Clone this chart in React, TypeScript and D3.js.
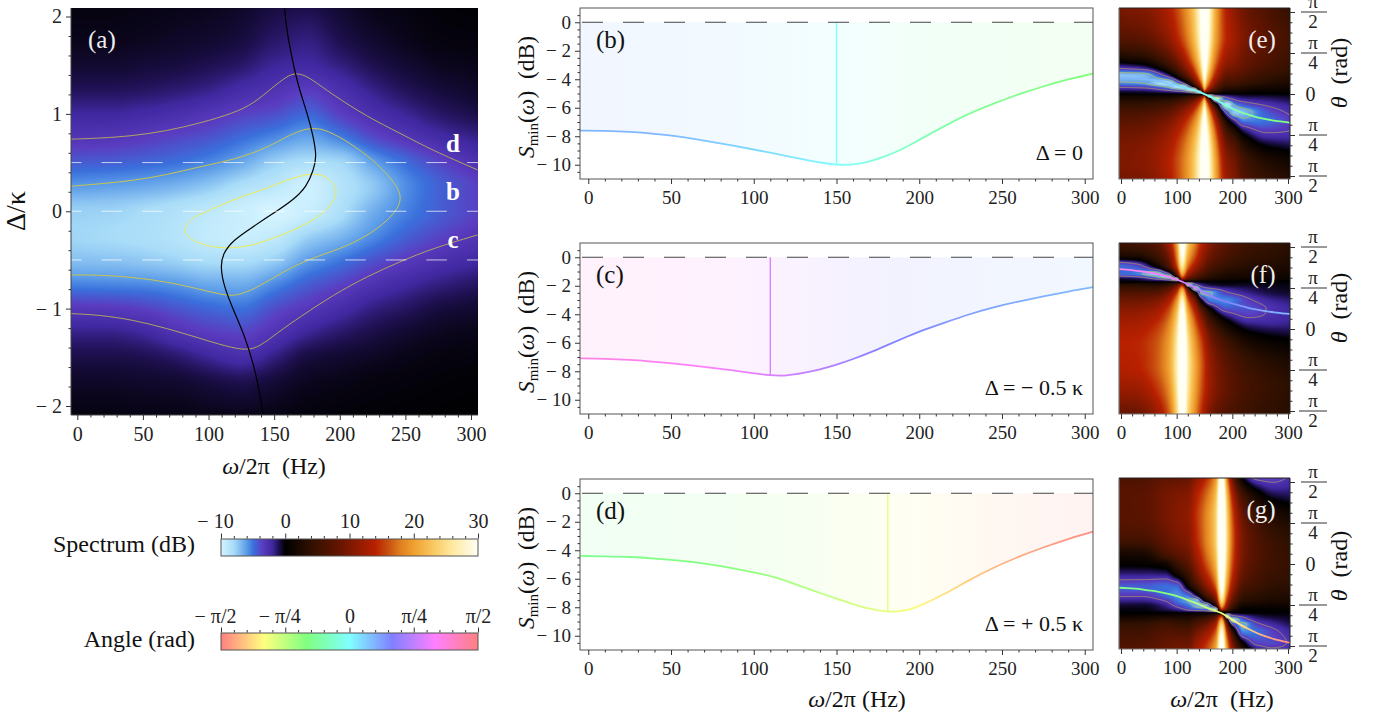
import React, { useEffect, useMemo, useRef } from 'react';
import * as d3 from 'd3';

const FONT = "'Liberation Serif', 'Times New Roman', serif";
const PI = Math.PI;

// colour scale stops, dB
const spectrumStops = [-10, -8, -6, -5, -3.5, -2, -1, 0, 4, 8, 12, 14, 16, 18, 20, 23, 26, 30];
const spectrumColors = ['#d4f4ff', '#a8dcf8', '#5c9ce8', '#3a70dc', '#5a3cc0', '#4028a0', '#1e1050', '#000000', '#301000', '#601400', '#9a1c00', '#b82000', '#c85010', '#e08020', '#f0a030', '#f8c860', '#ffe9a0', '#fffff4'];
const contourLevels = [-3, -6, -9];
const contourColors = ['#b0a460', '#c8c450', '#ecec50'];

// panel (a): spectrum in dB, one list per frequency column
const omegaA = [-5, 25, 50, 75, 100, 125, 150, 175, 200, 225, 250, 275, 305];
const deltaA = [2.09, 1.75, 1.5, 1.25, 1, 0.75, 0.5, 0.25, 0, -0.25, -0.5, -0.75, -1, -1.25, -1.5, -1.75, -2.09];
const spectrumA = [
  [-0.2, -0.35, -0.6, -1.1, -2.0, -3.0, -4.4, -6.0, -7.6, -7.8, -7.1, -5.4, -3.2, -1.7, -0.9, -0.5, -0.2],
  [-0.2, -0.35, -0.6, -1.1, -2.0, -3.1, -4.5, -6.2, -7.7, -8.0, -7.2, -5.5, -3.3, -1.7, -0.9, -0.5, -0.2],
  [-0.25, -0.4, -0.7, -1.2, -2.2, -3.4, -4.7, -6.4, -8.0, -8.2, -7.4, -5.6, -3.6, -2.0, -1.0, -0.55, -0.25],
  [-0.3, -0.5, -0.8, -1.4, -2.5, -3.8, -5.0, -6.8, -8.4, -8.6, -7.75, -5.9, -4.2, -2.8, -1.3, -0.6, -0.25],
  [-0.35, -0.6, -1.0, -1.7, -3.0, -4.2, -5.55, -7.4, -8.95, -9.2, -8.15, -6.4, -4.7, -3.4, -1.9, -0.8, -0.3],
  [-0.5, -0.8, -1.3, -2.3, -3.6, -4.9, -6.4, -8.3, -9.5, -9.5, -8.2, -6.5, -5.0, -3.7, -2.4, -1.0, -0.3],
  [-0.8, -1.3, -1.9, -2.8, -4.0, -5.6, -7.6, -8.9, -10, -9.2, -7.6, -5.6, -4.0, -2.9, -1.6, -0.7, -0.25],
  [-0.9, -1.6, -2.1, -3.4, -4.7, -6.3, -8.2, -9.7, -9.5, -7.8, -6.1, -4.5, -3.2, -1.9, -0.8, -0.4, -0.15],
  [-0.6, -1.0, -1.6, -2.6, -3.6, -5.4, -7.9, -8.6, -8.3, -6.9, -5.2, -3.7, -2.4, -1.3, -0.6, -0.3, -0.1],
  [-0.3, -0.6, -1.0, -1.7, -2.6, -4.0, -6.2, -7.4, -6.6, -5.7, -4.2, -2.8, -1.6, -0.9, -0.45, -0.2, -0.08],
  [-0.2, -0.35, -0.65, -1.1, -1.9, -3.1, -4.9, -5.7, -5.4, -4.6, -3.4, -2.1, -1.2, -0.6, -0.3, -0.15, -0.05],
  [-0.1, -0.2, -0.4, -0.75, -1.3, -2.3, -3.8, -4.6, -4.5, -3.8, -2.7, -1.6, -0.8, -0.4, -0.2, -0.1, -0.03],
  [-0.06, -0.15, -0.3, -0.5, -0.9, -1.7, -2.7, -3.6, -3.6, -3.0, -2.1, -1.2, -0.6, -0.3, -0.15, -0.06, -0.02],
];

// contour lines of panel (a), [omega, delta]
const outerTop = [[-5, 0.74], [17, 0.75], [42.7, 0.774], [68, 0.825], [93.5, 0.904], [119, 1.007], [134, 1.103], [149, 1.274], [159.5, 1.384], [166, 1.42], [173.5, 1.397], [182, 1.322], [195, 1.195], [220.5, 0.973], [246, 0.801], [271, 0.623], [305, 0.425]];
const outerBottom = [[-5, -1.051], [17, -1.065], [42.7, -1.116], [68, -1.202], [93.5, -1.305], [114, -1.39], [129, -1.43], [139, -1.39], [152, -1.253], [170, -1.082], [195, -0.86], [220.5, -0.671], [246, -0.517], [271, -0.38], [305, -0.243]];
const middleLine = [[-5, 0.257], [17, 0.281], [42.7, 0.315], [68, 0.373], [93.5, 0.459], [119, 0.527], [144, 0.647], [159.5, 0.767], [170, 0.829], [180, 0.86], [191, 0.829], [208, 0.699], [225.5, 0.527], [238, 0.356], [248, 0.168], [244, 0.014], [233, -0.14], [215, -0.3], [195, -0.41], [175, -0.5], [157, -0.62], [139, -0.77], [124, -0.86], [114, -0.87], [93.5, -0.801], [68, -0.723], [42.7, -0.678], [17, -0.654], [-5, -0.654]];
const innerLine = [[82, -0.192], [87, -0.085], [98.5, -0.003], [119, 0.116], [144, 0.236], [164.6, 0.34], [180, 0.38], [190, 0.345], [197, 0.219], [194.5, 0.099], [185, -0.038], [170, -0.158], [149, -0.277], [131.6, -0.35], [113.8, -0.375], [98.5, -0.35], [86, -0.275]];
const ridgeLine = [[157.7, 2.12], [159.5, 1.863], [163.3, 1.589], [168.4, 1.281], [176, 0.973], [179.8, 0.767], [182.5, 0.562], [180, 0.425], [174.8, 0.253], [164.6, 0.116], [149.4, -0.021], [134, -0.158], [118.9, -0.295], [111, -0.432], [109, -0.568], [111.8, -0.774], [118.9, -1.014], [127.8, -1.288], [134.1, -1.562], [138.7, -1.836], [142, -2.12]];
const sliceLevels = [0.5, 0, -0.5];

// minimum noise curves and their angle
const omegaCurve = [-5, 10, 25, 40, 55, 70, 85, 100, 110, 120, 130, 140, 150, 160, 170, 180, 190, 200, 215, 230, 245, 260, 275, 290, 305];
const sminB = [-7.6, -7.62, -7.68, -7.82, -8.02, -8.3, -8.6, -8.93, -9.15, -9.4, -9.63, -9.85, -10.02, -10.02, -9.78, -9.4, -8.9, -8.25, -7.3, -6.4, -5.7, -5.05, -4.5, -4.0, -3.6];
const sminC = [-7.1, -7.12, -7.2, -7.33, -7.5, -7.7, -7.9, -8.15, -8.3, -8.32, -8.12, -7.88, -7.55, -7.15, -6.7, -6.2, -5.7, -5.2, -4.6, -4.0, -3.5, -3.1, -2.75, -2.4, -2.1];
const sminD = [-4.4, -4.42, -4.46, -4.58, -4.72, -4.92, -5.2, -5.55, -5.8, -6.15, -6.6, -7.0, -7.4, -7.78, -8.12, -8.32, -8.3, -7.95, -7.1, -6.1, -5.2, -4.45, -3.8, -3.2, -2.7];
const angleB = [0.31, 0.31, 0.30, 0.29, 0.27, 0.24, 0.2, 0.16, 0.14, 0.11, 0.08, 0.04, 0, -0.05, -0.1, -0.17, -0.23, -0.28, -0.35, -0.4, -0.45, -0.48, -0.51, -0.53, -0.55];
const angleC = [1.15, 1.14, 1.12, 1.1, 1.08, 1.04, 1.0, 0.95, 0.906, 0.86, 0.81, 0.76, 0.7, 0.64, 0.59, 0.55, 0.52, 0.49, 0.44, 0.4, 0.37, 0.34, 0.32, 0.3, 0.287];
const angleD = [-0.454, -0.46, -0.47, -0.49, -0.51, -0.54, -0.57, -0.61, -0.65, -0.69, -0.73, -0.77, -0.82, -0.86, -0.9, -0.933, -1.0, -1.07, -1.17, -1.25, -1.33, -1.39, -1.44, -1.48, -1.51];

// panel (e)
const omegaE = [-5, 40, 80, 110, 130, 142, 146, 150, 154, 158, 170, 190, 205, 220, 260, 305];
const thetaE = [1.65, 1.1, 0.7, 0.5, 0.35, 0.2, 0.14, 0.08, 0.04, 0, -0.04, -0.08, -0.14, -0.2, -0.35, -0.5, -0.7, -1, -1.3, -1.65];
const spectrumE = [
  [9.8, 7.1, 2, -2.8, -7.3, -5.4, -3.4, -1.6, -0.5, 0, 1.3, 2, 3.2, 4, 5.9, 7.3, 8.6, 9.7, 10, 9.3],
  [10.5, 7.9, 3, -1.8, -7, -5.9, -3.8, -1.8, -0.7, 0, 1.3, 2.2, 3.3, 4.3, 6.2, 7.7, 9, 10.3, 10.6, 10],
  [12.9, 10.8, 6.5, 2.4, -2.8, -8.5, -6.2, -3.3, -1.4, 0, 1.3, 2.4, 4, 5.2, 7.6, 9.3, 10.9, 12.4, 13, 12.6],
  [17.5, 15.8, 12, 8.7, 4.5, -4, -9, -5.9, -2.4, 0, 2.3, 4, 6, 7.8, 10.8, 12.9, 14.8, 16.6, 17.4, 17.3],
  [23, 21.6, 18.5, 15.3, 11.8, 5.4, 0.4, -9.5, -5.4, 0, 4, 6.5, 9.4, 11.5, 15.2, 17.6, 19.8, 21.9, 22.8, 22.9],
  [29.5, 28.4, 25.4, 22.6, 19.5, 14, 10, 3, -9, 0, 6.8, 10.6, 14.3, 16.8, 21, 23.7, 26, 28.2, 29.3, 29.5],
  [34, 33, 29.9, 27.2, 24.2, 19, 15.6, 9.5, 0, 0, 9.3, 13.8, 18, 20.7, 25, 28, 30.3, 33, 33.8, 34],
  [40, 39, 36, 33.6, 30.7, 26, 23, 18, 12, 0, 12, 18, 23, 26, 30.7, 33.6, 36, 38.5, 39.7, 40],
  [34, 33.4, 30.3, 28, 25, 20.7, 18, 13.8, 9.3, 0, 0, 9.5, 15.6, 19, 24.2, 27.2, 29.9, 32.6, 33.7, 34],
  [29.5, 28.7, 26, 23.7, 21, 16.8, 14.3, 10.6, 6.8, 0, -9, 3, 10, 14, 19.5, 22.6, 25.4, 28, 29.2, 29.5],
  [20.9, 20.3, 18, 15.9, 13.6, 10, 8.2, 5.7, 3.4, 0, -3.8, -9.5, -3.8, 2, 9.2, 13, 16.1, 18.9, 20.4, 21],
  [13.5, 14, 12, 10, 8, 5.5, 4, 2.3, 1, 0, -1.9, -3.5, -6.4, -8.7, -4, 1.1, 5.3, 9, 11, 12],
  [11, 12, 10.7, 9.2, 7.5, 5.2, 3.7, 2, 1, 0, -1.2, -2.2, -3.7, -5.6, -7.5, -3, 2, 6.5, 9, 10],
  [9, 10, 9, 8, 6.5, 4.5, 3, 1.8, 0.8, 0, -0.8, -1.5, -2.8, -4.2, -7, -5.5, -1.1, 3.2, 5.8, 7.2],
  [6.5, 7.5, 6.8, 5.8, 4.5, 3, 1.9, 1, 0.4, 0, -0.6, -1.2, -1.9, -2.7, -4.4, -5, -3.4, 0, 2.8, 4.6],
  [4, 5.5, 5, 4.4, 3.4, 2.2, 1.5, 0.9, 0.4, 0, -0.35, -0.7, -1.2, -1.7, -2.6, -3.4, -3, -0.8, 1.5, 3.2],
];

// panel (f)
const omegaF = [-5, 30, 60, 85, 100, 110, 120, 135, 145, 160, 190, 230, 270, 305];
const thetaF = [1.65, 1.4, 1.2, 1.05, 1.0, 0.96, 0.906, 0.85, 0.78, 0.7, 0.55, 0.4, 0.3, 0.2, 0.1, 0, -0.3, -0.7, -1.1, -1.65];
const spectrumF = [
  [5.5, 2, -5, -4.6, -2.2, -0.5, 0, 3.2, 5, 6.5, 8.8, 10.4, 11.3, 12, 12.6, 13.1, 13.9, 13.6, 12, 8],
  [6, 2.5, -4, -5.4, -3, -1, 0, 3, 4.8, 6.5, 8.9, 10.6, 11.6, 12.3, 12.9, 13.3, 14.2, 14, 12.3, 8.5],
  [7, 4.5, 0, -7.4, -5.5, -3, 0, 2.6, 4.8, 6.8, 9.7, 11.6, 12.7, 13.4, 14.2, 14.8, 15.8, 15.9, 14.5, 11],
  [12, 9, 6, -4, -8, -5, 0, 3.8, 7, 9.4, 12.8, 15, 16.1, 17, 17.9, 18.5, 19.7, 20, 18.7, 16],
  [20, 18, 14.8, 7, 1.5, -8, 0, 7, 11.6, 14.8, 18.8, 21.3, 22.6, 23.6, 24.5, 25.2, 26.5, 27, 26, 24],
  [33.6, 30, 26, 20, 16.5, 11.7, 0, 11.7, 19, 23, 27.8, 30.6, 32, 33, 34, 35, 37, 37, 36, 34],
  [24, 21, 17.4, 12.6, 10, 7, 0, -8.3, 5, 11, 16.7, 20, 21.5, 22.8, 23.7, 24.5, 26.2, 27, 26.3, 24.5],
  [17.6, 15.2, 12, 8.3, 6.4, 4.8, 0, -3, -8, -0.2, 7.6, 11.6, 13.4, 14.9, 16, 17, 18.9, 20, 19.5, 18],
  [14, 12, 9.5, 6.4, 5, 3.6, 0, -1.6, -4, -6.5, -0.5, 6, 8.6, 10.5, 12, 13.2, 15.5, 16.5, 16, 14],
  [10.6, 8.8, 6.6, 4.3, 3.4, 2.5, 0, -0.7, -3, -6.2, -5.2, 0.3, 2.8, 4.8, 6.3, 7.7, 10.2, 11.8, 11.9, 9.5],
  [7.3, 6, 4.3, 2.5, 2, 1.5, 0, -0.3, -1.7, -3.2, -5.5, -4.3, -2.4, -0.5, 1.1, 2.5, 5.6, 7.6, 8.1, 6.5],
  [5.3, 4.3, 3.2, 2, 1.6, 1.1, 0, -0.4, -1, -1.6, -3.3, -4, -3.7, -2.8, -1.6, -0.5, 2.4, 4.8, 5.6, 4.8],
  [4.3, 3.6, 2.7, 1.8, 1.5, 1.1, 0, -0.2, -0.5, -0.8, -1.9, -2.7, -2.7, -2.4, -1.9, -1.1, 1.1, 3.4, 4.4, 3.8],
  [3.4, 2.9, 2.2, 1.5, 1.2, 1, 0, -0.2, -0.3, -0.5, -1.4, -2, -2.1, -2, -1.7, -1.2, 0.6, 2.6, 3.5, 3.2],
];

// panel (g)
const omegaG = [-5, 40, 80, 100, 120, 135, 150, 170, 181, 190, 200, 220, 245, 270, 305];
const thetaG = [1.65, 1.3, 0.9, 0.5, 0.2, 0, -0.2, -0.45, -0.6, -0.7, -0.8, -0.87, -0.933, -1, -1.07, -1.15, -1.3, -1.5, -1.65];
const spectrumG = [
  [6.2, 7.3, 7.2, 5.8, 2, 0.3, -1.6, -4.4, -3.3, -1.8, -0.6, -0.2, 0, 1.2, 2.5, 4, 5.2, 6.3, 6.9],
  [6.5, 7.5, 7.5, 6, 2.2, 0.4, -1.6, -4.5, -3.3, -1.8, -0.5, -0.2, 0, 1.4, 2.7, 4.2, 5.4, 6.6, 7.2],
  [8, 9.3, 9.4, 8.2, 6, 1.5, -1.5, -5, -4.8, -3.2, -1.7, -1, 0, 1.8, 3.6, 5.3, 6.7, 8, 8.7],
  [8, 10, 10.4, 9.5, 7.5, 4.5, 1, -5, -5.6, -5, -3.5, -1.8, 0, 1.8, 3.4, 4.8, 6.6, 8.5, 9],
  [8.4, 10.4, 11.1, 10.4, 9, 7.2, 4.6, 0.2, -5, -6.1, -4.9, -3.5, 0, 1.8, 3.2, 4.5, 6.5, 8.5, 9.5],
  [11, 13.5, 14.5, 14, 12.5, 11, 9, 4.5, -1, -6.8, -6.5, -4.5, 0, 2.5, 4.5, 6.3, 9, 11.3, 12.5],
  [13.6, 16.4, 17.7, 17.5, 16.4, 15, 13, 9, 4.8, 0, -7.2, -4.8, 0, 3, 5.8, 8, 11, 13.7, 15],
  [19.3, 22.3, 23.8, 23.8, 22.8, 21.6, 19.8, 16.2, 12, 8.5, 1.5, -8.1, 0, 6.4, 10, 12.8, 16.3, 19.4, 20.9],
  [32, 35.7, 37.5, 37.5, 36, 35.8, 34.2, 31, 28, 25, 20, 13.8, 0, 14.3, 20.3, 24.4, 28.9, 32.4, 34],
  [18.9, 22.9, 24.9, 25.4, 24.8, 23.9, 22.5, 19.8, 17.2, 14.8, 11.5, 7.8, 0, -8.2, 2.8, 9, 14.8, 19, 21],
  [9, 13.8, 16.2, 17, 16.5, 15.8, 14.6, 12.3, 10, 8.2, 5.7, 3.2, 0, -4, -8, -3.3, 4.3, 9.3, 11.8],
  [-0.4, 5.3, 8.3, 9.4, 9.4, 8.9, 8.1, 6.2, 4.6, 3.4, 1.5, 0.4, 0, -2.4, -4.5, -6.3, -5.5, 0, 2.8],
  [-3.6, 1.5, 4.9, 6.5, 6.8, 6.5, 6, 4.8, 3.6, 2.8, 1.3, 0.3, 0, -1, -2, -3.4, -4.9, -3.8, -1.1],
  [-3.8, -0.5, 3, 4.8, 5.3, 5.2, 4.8, 3.8, 3, 2.3, 1.1, 0.3, 0, -0.5, -1.3, -2.2, -3.7, -3.9, -2.5],
  [-2.7, -1.1, 1.8, 3.6, 4.2, 4.3, 4.1, 3.4, 2.8, 2.2, 1.4, 0.6, 0, -0.3, -0.6, -1, -2, -2.7, -2.4],
];

// tick labels
const majorA = [0, 50, 100, 150, 200, 250, 300];
const minorA = [10, 20, 30, 40, 60, 70, 80, 90, 110, 120, 130, 140, 160, 170, 180, 190, 210, 220, 230, 240, 260, 270, 280, 290];
const majorDelta = [-2, -1, 0, 1, 2];
const minorDelta = [-1.8, -1.6, -1.4, -1.2, -0.8, -0.6, -0.4, -0.2, 0.2, 0.4, 0.6, 0.8, 1.2, 1.4, 1.6, 1.8];
const majorS = [-10, -8, -6, -4, -2, 0];
const minorS = [-10.5, -9.5, -9, -8.5, -7.5, -7, -6.5, -5.5, -5, -4.5, -3.5, -3, -2.5, -1.5, -1, -0.5, 0.5];
const majorSmall = [0, 100, 200, 300];
const minorSmall = [20, 40, 60, 80, 120, 140, 160, 180, 220, 240, 260, 280];
const spectrumTicks = [-10, 0, 10, 20, 30];
const spectrumMinor = [-8, -6, -4, -2, 2, 4, 6, 8, 12, 14, 16, 18, 22, 24, 26, 28];
const angleTickLabels = ['\u2212 \u03c0/2', '\u2212 \u03c0/4', '0', '\u03c0/4', '\u03c0/2'];

const minus = (v: number) => (v < 0 ? `\u2212 ${-v}` : `${v}`);
const angleColor = (t: number) => d3.hsl((t / PI + 0.5) * 360, 1, 0.75).formatHex();

const spectrumScale = d3.scaleLinear<string>().domain(spectrumStops).range(spectrumColors).clamp(true);
const spectrumLut = d3.range(1024).map((i) => d3.rgb(spectrumScale(-10 + (40 * i) / 1023)));

function tangents(xs: number[], ys: number[]) {
  const n = xs.length;
  const d = d3.range(n - 1).map((i) => (ys[i + 1] - ys[i]) / (xs[i + 1] - xs[i]));
  return xs.map((_, i) => {
    if (i === 0) return d[0];
    if (i === n - 1) return d[n - 2];
    if (d[i - 1] * d[i] <= 0) return 0;
    const h0 = xs[i] - xs[i - 1];
    const h1 = xs[i + 1] - xs[i];
    return (3 * (h0 + h1)) / ((2 * h1 + h0) / d[i - 1] + (h1 + 2 * h0) / d[i]);
  });
}

function evalCurve(xs: number[], ys: number[], ms: number[], t: number) {
  if (t <= xs[0]) return ys[0];
  if (t >= xs[xs.length - 1]) return ys[ys.length - 1];
  const i = d3.bisectRight(xs, t) - 1;
  const h = xs[i + 1] - xs[i];
  const s = (t - xs[i]) / h;
  const s2 = s * s;
  const s3 = s2 * s;
  return (2 * s3 - 3 * s2 + 1) * ys[i] + (s3 - 2 * s2 + s) * h * ms[i] + (-2 * s3 + 3 * s2) * ys[i + 1] + (s3 - s2) * h * ms[i + 1];
}

// smooths the coarse table of read values onto screen pixels
function sampleField(cols: number[], rows: number[], z: number[][], x: any, y: any, x0: number, y0: number, w: number, h: number, res: number) {
  const rowsUp = rows.map((r) => -r);
  const rowY = rows.map((_, r) => z.map((c) => c[r]));
  const rowM = rowY.map((v) => tangents(cols, v));
  const field = new Float64Array(w * h);
  for (let i = 0; i < w; i++) {
    const om = x.invert(x0 + (i + 0.5) / res);
    const col = rows.map((_, r) => evalCurve(cols, rowY[r], rowM[r], om));
    const ms = tangents(rowsUp, col);
    for (let j = 0; j < h; j++) {
      field[j * w + i] = evalCurve(rowsUp, col, ms, -y.invert(y0 + (j + 0.5) / res));
    }
  }
  return field;
}

function fieldImage(field: Float64Array, w: number, h: number) {
  const canvas = document.createElement('canvas');
  canvas.width = w;
  canvas.height = h;
  const ctx = canvas.getContext('2d')!;
  const img = ctx.createImageData(w, h);
  for (let k = 0; k < w * h; k++) {
    const idx = Math.max(0, Math.min(1023, Math.round(((field[k] + 10) / 40) * 1023)));
    const c = spectrumLut[idx];
    img.data[k * 4] = c.r;
    img.data[k * 4 + 1] = c.g;
    img.data[k * 4 + 2] = c.b;
    img.data[k * 4 + 3] = 255;
  }
  ctx.putImageData(img, 0, 0);
  return canvas.toDataURL();
}

function Axis({ kind, scale, major, minor, at, format, size = 20, pad = 11.5, majorLen = 5, minorLen = 2.5, color = '#333', hang = 0 }: any) {
  const ref = useRef<SVGGElement>(null);
  useEffect(() => {
    const g = d3.select(ref.current!);
    g.selectAll('*').remove();
    const maker: any = kind === 'left' ? d3.axisLeft : kind === 'top' ? d3.axisTop : kind === 'right' ? d3.axisRight : d3.axisBottom;
    g.append('g').call(maker(scale).tickValues(minor).tickSize(minorLen).tickFormat(() => ''));
    g.append('g').call(maker(scale).tickValues(major).tickSize(majorLen).tickPadding(pad - majorLen).tickFormat(format));
    g.selectAll('.domain').attr('stroke', 'none');
    g.selectAll('line').attr('stroke', color).attr('stroke-width', 1);
    g.selectAll('text').attr('font-family', FONT).attr('font-size', size).attr('fill', '#222');
    if (hang) g.selectAll('text').filter(function () { return (this as any).textContent.startsWith('\u2212'); }).attr('dx', -hang);
  }, [kind, scale, major, minor, format, size, pad, majorLen, minorLen, color, hang]);
  return <g ref={ref} transform={kind === 'left' || kind === 'right' ? `translate(${at},0)` : `translate(0,${at})`} />;
}

const Omega = () => (
  <>
    <tspan fontStyle="italic">{'\u03c9'}</tspan>
    {'/2\u03c0'}
  </>
);

function PanelA() {
  const x = useMemo(() => d3.scaleLinear().domain([0, 300]).range([77.3, 471]), []);
  const y = useMemo(() => d3.scaleLinear().domain([2, -2]).range([16.5, 406]), []);
  const left = 71, right = 478, top = 8, bottom = 415;
  const href = useMemo(() => {
    const f = sampleField(omegaA, deltaA, spectrumA, x, y, left, top, right - left, bottom - top, 1);
    return fieldImage(f, right - left, bottom - top);
  }, [x, y]);
  const line = d3.line<number[]>().x((d) => x(d[0])).y((d) => y(d[1])).curve(d3.curveBasis);
  const closed = d3.line<number[]>().x((d) => x(d[0])).y((d) => y(d[1])).curve(d3.curveCatmullRomClosed.alpha(0.5));
  const tagY = [152, 200, 248];
  const tags = ['d', 'b', 'c'];
  return (
    <g>
      <defs>
        <clipPath id="clip-a">
          <rect x={left} y={top} width={right - left} height={bottom - top} />
        </clipPath>
      </defs>
      <image href={href} x={left} y={top} width={right - left} height={bottom - top} preserveAspectRatio="none" />
      <g clipPath="url(#clip-a)" fill="none">
        <path d={line(outerTop)!} stroke={contourColors[0]} strokeWidth={1} />
        <path d={line(outerBottom)!} stroke={contourColors[0]} strokeWidth={1} />
        <path d={line(middleLine)!} stroke={contourColors[1]} strokeWidth={1} />
        <path d={closed(innerLine)!} stroke={contourColors[2]} strokeWidth={1} />
        <path d={line(ridgeLine)!} stroke="#000" strokeWidth={1.2} />
        {sliceLevels.map((s) => (
          <line key={s} x1={left} x2={right} y1={y(s)} y2={y(s)} stroke="#fff" strokeOpacity={0.7} strokeWidth={1} strokeDasharray="20.5 20.1" strokeDashoffset={10} />
        ))}
      </g>
      <path d={`M${left},${top}V${bottom}H${right}`} fill="none" stroke="#444" />
      <Axis kind="bottom" scale={x} major={majorA} minor={minorA} at={bottom} format={(d: number) => `${d}`} />
      <Axis kind="left" scale={y} major={majorDelta} minor={minorDelta} at={left} format={minus} pad={9} />
      <text x={88} y={48} fontSize={25} fill="#eee" fontFamily={FONT}>(a)</text>
      {tags.map((t, i) => (
        <text key={t} x={453} y={tagY[i]} fontSize={25} fontWeight="bold" fill="#fff" textAnchor="middle" fontFamily={FONT}>{t}</text>
      ))}
      <text transform="translate(25,211) rotate(-90)" fontSize={28} textAnchor="middle" fontFamily={FONT} fill="#111">{'\u0394/\u03ba'}</text>
      <text x={274} y={474} fontSize={24} textAnchor="middle" fontFamily={FONT} fill="#111">
        <Omega />
        {'\u00a0\u00a0(Hz)'}
      </text>
    </g>
  );
}

function LinePanel({ id, top, smin, angle, center, note, tag }: any) {
  const x = useMemo(() => d3.scaleLinear().domain([-5, 305]).range([580, 1093]), []);
  const y = useMemo(() => d3.scaleLinear().domain([1, -11]).range([top, top + 171]), [top]);
  const pts = omegaCurve.map((o, i) => [o, smin[i]]);
  const line = d3.line<number[]>().x((d) => x(d[0])).y((d) => y(d[1])).curve(d3.curveBasis);
  const area = d3.area<number[]>().x((d) => x(d[0])).y0(y(0)).y1((d) => y(d[1])).curve(d3.curveBasis);
  const ci = d3.bisectCenter(omegaCurve, center);
  return (
    <g>
      <defs>
        <linearGradient id={id} gradientUnits="userSpaceOnUse" x1={x(-5)} x2={x(305)} y1={0} y2={0}>
          {omegaCurve.map((o, i) => (
            <stop key={o} offset={(o + 5) / 310} stopColor={angleColor(angle[i])} />
          ))}
        </linearGradient>
      </defs>
      <path d={area(pts)!} fill={`url(#${id})`} fillOpacity={0.1} />
      <path d={line(pts)!} fill="none" stroke={`url(#${id})`} strokeWidth={1.8} />
      <line x1={x(center)} x2={x(center)} y1={y(0)} y2={y(smin[ci])} stroke={angleColor(angle[ci])} strokeWidth={1.4} />
      <line x1={580} x2={1093} y1={y(0)} y2={y(0)} stroke="#444" strokeWidth={1} strokeDasharray="21 20" strokeDashoffset={-2} />
      <rect x={580} y={top} width={513} height={171} fill="none" stroke="#555" strokeWidth={1} />
      <Axis kind="bottom" scale={x} major={majorA} minor={minorA} at={top + 171} format={(d: number) => `${d}`} size={19} />
      <Axis kind="left" scale={y} major={majorS} minor={minorS} at={580} format={minus} size={19} pad={9} />
      <text x={596} y={top + 40} fontSize={25} fill="#111" fontFamily={FONT}>{tag}</text>
      <text x={1083} y={top + 152} fontSize={22} fill="#111" textAnchor="end" fontFamily={FONT}>{note}</text>
      <text transform={`translate(534,${top + 89}) rotate(-90)`} fontSize={23.5} textAnchor="middle" fill="#111" fontFamily={FONT}>
        <tspan fontStyle="italic">S</tspan>
        <tspan fontSize={15} dy={4}>min</tspan>
        <tspan dy={-4}>(</tspan>
        <tspan fontStyle="italic">{'\u03c9'}</tspan>
        {')\u00a0\u00a0(dB)'}
      </text>
    </g>
  );
}

const fractionTicks = [
  { v: PI / 2, d: '2', neg: false },
  { v: PI / 4, d: '4', neg: false },
  { v: -PI / 4, d: '4', neg: true },
  { v: -PI / 2, d: '2', neg: true },
];
const minorTheta = [-7, -6, -5, -3, -2, -1, 1, 2, 3, 5, 6, 7].map((k) => (k * PI) / 16);

function HeatPanel({ id, top, cols, rows, z, omega, angle, tag, tagX, labelY }: any) {
  const left = 1119, right = 1290, h = 171, res = 2, margin = 2;
  const x = useMemo(() => d3.scaleLinear().domain([0, 300]).range([1121, 1288]), []);
  const y = useMemo(() => d3.scaleLinear().domain([PI / 2, -PI / 2]).range([top + 4, top + 168]), [top]);
  const built = useMemo(() => {
    const w = (right - left + 2 * margin) * res;
    const ht = (h + 2 * margin) * res;
    const f = sampleField(cols, rows, z, x, y, left - margin, top - margin, w, ht, res);
    const neg = Array.from(f, (v) => -v);
    const bands = d3.contours().size([w, ht]).thresholds(contourLevels.map((l) => -l).sort((a, b) => a - b))(neg);
    const path = d3.geoPath();
    return { href: fieldImage(f, w, ht), paths: bands.map((b) => path(b as any) as string) };
  }, [cols, rows, z, x, y, top]);
  const pts = omega.map((o: number, i: number) => [o, angle[i]]);
  const line = d3.line<number[]>().x((d) => x(d[0])).y((d) => y(d[1])).curve(d3.curveBasis);
  const bottom = top + h;
  const cx = 1313;
  return (
    <g>
      <defs>
        <clipPath id={`clip-${id}`}>
          <rect x={left} y={top} width={right - left} height={h} />
        </clipPath>
        <linearGradient id={`hue-${id}`} gradientUnits="userSpaceOnUse" x1={x(-5)} x2={x(305)} y1={0} y2={0}>
          {omega.map((o: number, i: number) => (
            <stop key={o} offset={(o + 5) / 310} stopColor={angleColor(angle[i])} />
          ))}
        </linearGradient>
      </defs>
      <g clipPath={`url(#clip-${id})`}>
        <image href={built.href} x={left - margin} y={top - margin} width={right - left + 2 * margin} height={h + 2 * margin} preserveAspectRatio="none" />
        <g transform={`translate(${left - margin},${top - margin}) scale(${1 / res})`} fill="none" strokeOpacity={0.75} strokeWidth={2}>
          {built.paths.map((d: string, i: number) => (
            <path key={i} d={d} stroke={contourColors[i]} />
          ))}
        </g>
        <path d={line(pts)!} fill="none" stroke={`url(#hue-${id})`} strokeWidth={1.8} />
      </g>
      <path d={`M${left},${top}V${bottom}H${right}`} fill="none" stroke="#777" strokeWidth={1.2} />
      <path d={`M${left},${top}H${right}V${bottom}`} fill="none" stroke="#222" strokeWidth={1} />
      <Axis kind="bottom" scale={x} major={majorSmall} minor={minorSmall} at={bottom} format={(d: number) => `${d}`} size={19} pad={11.5} />
      <Axis kind="right" scale={y} major={[-PI / 2, -PI / 4, 0, PI / 4, PI / 2]} minor={minorTheta} at={right} format={() => ''} size={19} pad={8} />
      {fractionTicks.map((t) => (
        <g key={t.v} fontFamily={FONT} fontSize={19} fill="#222" textAnchor="middle">
          <line x1={t.neg ? 1299 : 1301} x2={1327} y1={y(t.v)} y2={y(t.v)} stroke="#333" />
          <text x={cx} y={y(t.v) - 4}>{'\u03c0'}</text>
          <text x={cx} y={y(t.v) + 15.5}>{t.d}</text>
        </g>
      ))}
      <text x={1310.5} y={y(0) + 6.5} fontSize={20} fill="#222" textAnchor="middle" fontFamily={FONT}>0</text>
      <text transform={`translate(1347,${labelY}) rotate(-90)`} fontSize={24} textAnchor="middle" fontFamily={FONT} fill="#111">
        <tspan fontStyle="italic">{'\u03b8'}</tspan>
        {'\u00a0\u00a0(rad)'}
      </text>
      <text x={tagX} y={top + 40} fontSize={25} fill="#eee" textAnchor="middle" fontFamily={FONT}>{tag}</text>
    </g>
  );
}

function ColorBars() {
  const sx = useMemo(() => d3.scaleLinear().domain([-10, 30]).range([221, 478]), []);
  const ax = useMemo(() => d3.scaleLinear().domain([-PI / 2, PI / 2]).range([221, 478]), []);
  const angleMajor = [-PI / 2, -PI / 4, 0, PI / 4, PI / 2];
  const angleMinor = d3.range(-10, 11).filter((k) => k % 5 !== 0).map((k) => (k * PI) / 20);
  const hueStops = d3.range(0, 13).map((k) => k / 12);
  return (
    <g>
      <defs>
        <linearGradient id="bar-s">
          {spectrumStops.map((s, i) => (
            <stop key={s} offset={(s + 10) / 40} stopColor={spectrumColors[i]} />
          ))}
        </linearGradient>
        <linearGradient id="bar-a">
          {hueStops.map((f) => (
            <stop key={f} offset={f} stopColor={angleColor((f - 0.5) * PI)} />
          ))}
        </linearGradient>
      </defs>
      <rect x={221} y={539} width={257} height={17} fill="url(#bar-s)" stroke="#555" />
      <Axis kind="top" scale={sx} major={spectrumTicks} minor={spectrumMinor} at={538.5} format={minus} pad={10.5} hang={6} />
      <text x={195} y={552} fontSize={24} textAnchor="end" fontFamily={FONT} fill="#111">Spectrum (dB)</text>
      <rect x={221} y={633} width={257} height={17} fill="url(#bar-a)" stroke="#555" />
      <Axis kind="top" scale={ax} major={angleMajor} minor={angleMinor} at={632.5} format={(_: number, i: number) => angleTickLabels[i]} pad={10} hang={6} />
      <text x={195} y={647} fontSize={24} textAnchor="end" fontFamily={FONT} fill="#111">Angle (rad)</text>
    </g>
  );
}

export default function App() {
  return (
    <svg width={1385} height={719} viewBox="0 0 1385 719" style={{ position: 'absolute', left: 0, top: 0, background: '#fff' }}>
      <PanelA />
      <LinePanel id="grad-b" top={8} smin={sminB} angle={angleB} center={150} tag="(b)" note={'\u0394 = 0'} />
      <LinePanel id="grad-c" top={243} smin={sminC} angle={angleC} center={110} tag="(c)" note={'\u0394 = \u2212 0.5 \u03ba'} />
      <LinePanel id="grad-d" top={479} smin={sminD} angle={angleD} center={181} tag="(d)" note={'\u0394 = + 0.5 \u03ba'} />
      <text x={857} y={707} fontSize={24} textAnchor="middle" fontFamily={FONT} fill="#111">
        <Omega />
        {' (Hz)'}
      </text>
      <HeatPanel id="e" top={8} cols={omegaE} rows={thetaE} z={spectrumE} omega={omegaCurve} angle={angleB} tag="(e)" tagX={1262} labelY={73} />
      <HeatPanel id="f" top={243} cols={omegaF} rows={thetaF} z={spectrumF} omega={omegaCurve} angle={angleC} tag="(f)" tagX={1263} labelY={308} />
      <HeatPanel id="g" top={478} cols={omegaG} rows={thetaG} z={spectrumG} omega={omegaCurve} angle={angleD} tag="(g)" tagX={1261} labelY={566} />
      <text x={1222} y={707} fontSize={24} textAnchor="middle" fontFamily={FONT} fill="#111">
        <Omega />
        {'\u00a0\u00a0(Hz)'}
      </text>
      <ColorBars />
    </svg>
  );
}
